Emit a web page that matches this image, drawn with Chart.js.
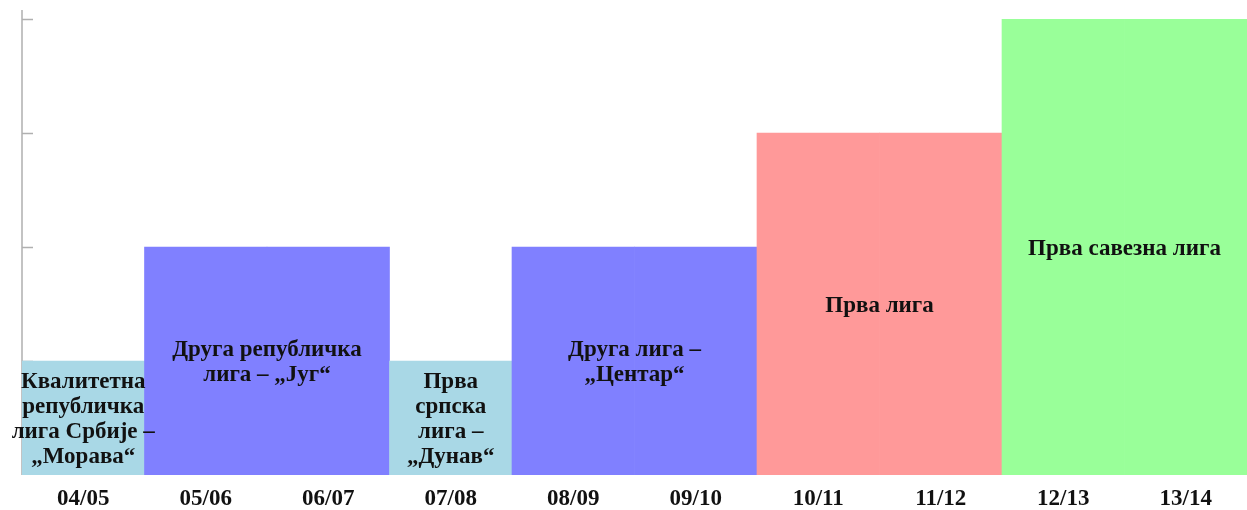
<!DOCTYPE html>
<html>
<head>
<meta charset="utf-8">
<title>Лиге по сезонама</title>
<script src="https://cdn.jsdelivr.net/npm/chart.js@4/dist/chart.umd.min.js"></script>
<style>
  html, body { margin: 0; padding: 0; background: #fff; }
  #wrap { width: 1247px; height: 510px; position: relative; }
</style>
</head>
<body>
<div id="wrap"><canvas id="grafik"></canvas></div>
<script>
// Сезоне (x оса)
const seasons = ['04/05', '05/06', '06/07', '07/08', '08/09', '09/10', '10/11', '11/12', '12/13', '13/14'];
// Ниво такмичења по сезони
const levels = [1, 2, 2, 1, 2, 2, 3, 3, 4, 4];
// Којој лиги припада сезона (индекс у leagueNames)
const leagueOfSeason = [0, 1, 1, 2, 3, 3, 4, 4, 5, 5];
// Називи лига, по редовима
const leagueNames = [
  ['Квалитетна', 'републичка', 'лига Србије –', '„Морава“'],
  ['Друга републичка', 'лига – „Југ“'],
  ['Прва', 'српска', 'лига –', '„Дунав“'],
  ['Друга лига –', '„Центар“'],
  ['Прва лига'],
  ['Прва савезна лига']
];
// Ниво -> боја
const levelColors = { 1: '#a9d8e6', 2: '#8080ff', 3: '#ff9999', 4: '#99ff99' };

const serif = "'Liberation Serif', 'Times New Roman', serif";

// Оса са кратким цртицама ка унутра, испод стубова
const axisPlugin = {
  id: 'axisPlugin',
  beforeDatasetsDraw(chart) {
    const { ctx, chartArea, scales } = chart;
    ctx.save();
    ctx.strokeStyle = '#b0b0b0';
    ctx.lineWidth = 1.5;
    ctx.beginPath();
    ctx.moveTo(chartArea.left, chartArea.top - 9);
    ctx.lineTo(chartArea.left, chartArea.bottom);
    [1, 2, 3, 4].forEach(v => {
      const y = Math.round(scales.y.getPixelForValue(v)) + 0.5;
      ctx.moveTo(chartArea.left, y);
      ctx.lineTo(chartArea.left + 11, y);
    });
    ctx.stroke();
    ctx.restore();
  }
};

// Називи лига преко спојених стубова
const leagueLabels = {
  id: 'leagueLabels',
  afterDatasetsDraw(chart) {
    const { ctx, scales } = chart;
    const xs = scales.x, ys = scales.y;
    const half = (xs.getPixelForValue(1) - xs.getPixelForValue(0)) / 2;
    ctx.save();
    ctx.fillStyle = '#111';
    ctx.font = 'bold 23px ' + serif;
    ctx.textAlign = 'center';
    ctx.textBaseline = 'middle';
    leagueNames.forEach((lines, li) => {
      const idx = [];
      leagueOfSeason.forEach((l, i) => { if (l === li) idx.push(i); });
      const first = idx[0], last = idx[idx.length - 1];
      const cx = (xs.getPixelForValue(first) - half + xs.getPixelForValue(last) + half) / 2;
      const cy = (ys.getPixelForValue(levels[first]) + ys.getPixelForValue(0)) / 2 + 2;
      const lh = 25;
      const y0 = cy - (lines.length - 1) * lh / 2;
      lines.forEach((t, k) => ctx.fillText(t, cx, y0 + k * lh));
    });
    ctx.restore();
  }
};

new Chart(document.getElementById('grafik'), {
  type: 'bar',
  data: {
    labels: seasons,
    datasets: [{
      data: levels,
      backgroundColor: levels.map(v => levelColors[v]),
      borderWidth: 0,
      barPercentage: 1,
      categoryPercentage: 1
    }]
  },
  plugins: [axisPlugin, leagueLabels],
  options: {
    responsive: true,
    maintainAspectRatio: false,
    animation: false,
    layout: { padding: { left: 22, top: 19, right: 0, bottom: 0 } },
    plugins: { legend: { display: false }, tooltip: { enabled: false } },
    scales: {
      x: {
        grid: { display: false, drawTicks: false },
        border: { display: false },
        afterFit(scale) { scale.height = 35; },
        ticks: {
          color: '#111',
          padding: 10.5,
          maxRotation: 0,
          font: { family: serif, size: 23, weight: 'bold', lineHeight: 1.2 }
        }
      },
      y: {
        display: false,
        min: 0,
        max: 4
      }
    }
  }
});
</script>
</body>
</html>
